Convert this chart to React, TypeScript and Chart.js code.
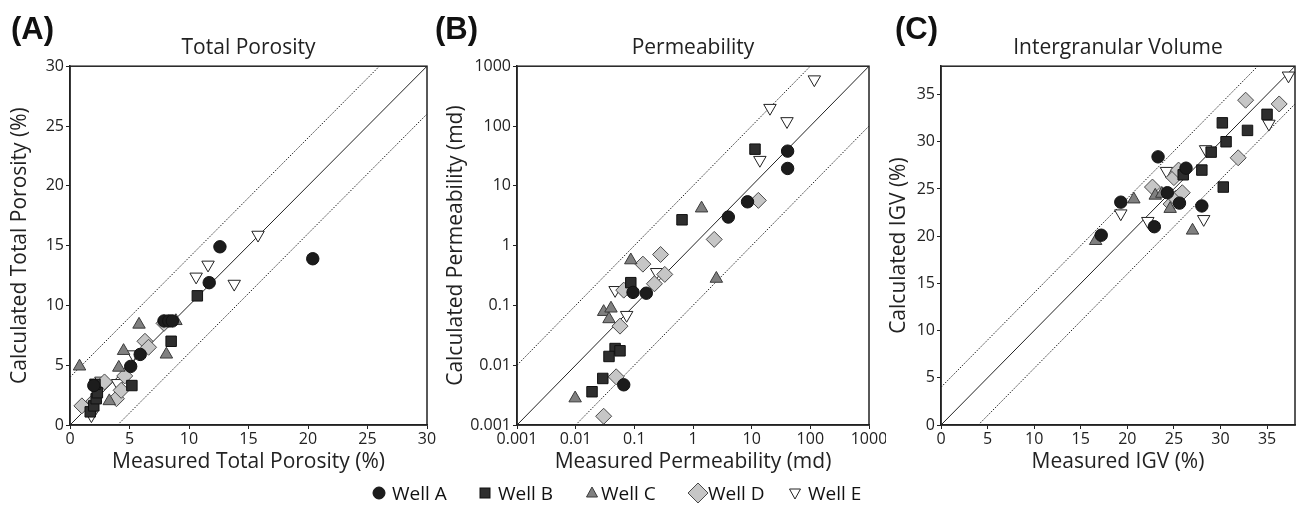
import React, { useEffect, useRef } from 'react';
import { Chart, registerables } from 'chart.js';
Chart.register(...registerables);

// ---------- Panel A: Total Porosity (%) ----------
const porAMeas = [12.6, 20.4, 11.7, 7.9, 8.3, 8.6, 5.9, 5.1, 2.0];
const porACalc = [14.9, 13.9, 11.9, 8.7, 8.7, 8.7, 5.9, 4.9, 3.3];
const porBMeas = [1.7, 2.0, 2.2, 2.3, 2.1, 5.2, 8.5, 10.7];
const porBCalc = [1.1, 1.6, 2.2, 2.7, 3.4, 3.3, 7.0, 10.8];
const porCMeas = [0.8, 3.3, 4.1, 4.5, 5.8, 8.1, 8.9];
const porCCalc = [4.9, 2.0, 4.8, 6.2, 8.4, 5.9, 8.7];
const porDMeas = [1.0, 2.0, 2.9, 3.9, 4.3, 4.6, 6.3, 6.6, 7.9];
const porDCalc = [1.6, 2.0, 3.6, 2.2, 2.9, 4.1, 7.0, 6.5, 8.5];
const porEMeas = [1.8, 2.6, 4.0, 5.3, 10.6, 11.6, 13.8, 15.8];
const porECalc = [0.8, 3.7, 3.5, 5.9, 12.4, 13.4, 11.8, 15.9];
const porTicks = [0, 5, 10, 15, 20, 25, 30];
const porOneToOne = [[0, 0], [30, 30]];
const porUpper = [[0, 4], [26, 30]];
const porLower = [[4, 0], [30, 26]];

// ---------- Panel B: Permeability (md) ----------
const permAMeas = [41, 41, 8.5, 4.0, 0.095, 0.16, 0.066];
const permACalc = [38, 19.5, 5.4, 3.0, 0.165, 0.16, 0.0047];
const permBMeas = [11.4, 0.65, 0.087, 0.047, 0.057, 0.037, 0.029, 0.019];
const permBCalc = [41, 2.7, 0.24, 0.019, 0.0174, 0.014, 0.006, 0.0036];
const permCMeas = [1.4, 0.087, 0.03, 0.04, 0.037, 0.0098, 2.5];
const permCCalc = [4.2, 0.57, 0.078, 0.089, 0.059, 0.0028, 0.28];
const permDMeas = [13, 2.3, 0.28, 0.14, 0.33, 0.22, 0.066, 0.057, 0.049, 0.03];
const permDCalc = [5.7, 1.27, 0.71, 0.49, 0.33, 0.23, 0.18, 0.045, 0.0064, 0.0014];
const permEMeas = [117, 20.5, 40, 13.8, 0.047, 0.074, 0.24];
const permECalc = [600, 200, 120, 27, 0.18, 0.069, 0.36];
const permTickValues = [0.001, 0.01, 0.1, 1, 10, 100, 1000];
const permTickLabels = ['0.001', '0.01', '0.1', '1', '10', '100', '1000'];
const permOneToOne = [[0.001, 0.001], [1000, 1000]];
const permUpper = [[0.001, 0.01], [100, 1000]];
const permLower = [[0.01, 0.001], [1000, 100]];

// ---------- Panel C: Intergranular Volume (%) ----------
const igvAMeas = [23.3, 26.3, 24.3, 25.6, 28.0, 19.3, 22.9, 17.2];
const igvACalc = [28.4, 27.2, 24.6, 23.5, 23.2, 23.6, 21.0, 20.1];
const igvBMeas = [30.2, 32.9, 35.0, 30.6, 29.0, 28.0, 30.3, 26.0];
const igvBCalc = [32.0, 31.2, 32.9, 30.0, 28.9, 27.0, 25.2, 26.5];
const igvCMeas = [20.7, 23.0, 23.7, 24.6, 27.0, 16.6];
const igvCCalc = [23.9, 24.3, 24.5, 22.9, 20.6, 19.5];
const igvDMeas = [22.7, 24.7, 25.2, 25.9, 25.0, 25.5, 31.9, 32.7, 36.3];
const igvDCalc = [25.2, 23.4, 24.0, 24.6, 26.2, 27.0, 28.3, 34.4, 34.0];
const igvEMeas = [37.3, 35.2, 28.4, 24.2, 28.2, 19.3, 22.2];
const igvECalc = [37.0, 31.9, 29.2, 26.9, 21.8, 22.4, 21.6];
const igvTicks = [0, 5, 10, 15, 20, 25, 30, 35];
const igvOneToOne = [[0, 0], [38, 38]];
const igvUpper = [[0, 4], [34, 38]];
const igvLower = [[4, 0], [38, 34]];

const wellNames = ['Well A', 'Well B', 'Well C', 'Well D', 'Well E'];

const FONT = '"Open Sans", "DejaVu Sans", sans-serif';
const INK = '#222';

const wellStyles = [
  { pointStyle: 'circle', radius: 6.2, rotation: 0, bg: '#1c1c1c', border: '#111' },
  { pointStyle: 'rect', radius: 7.4, rotation: 0, bg: '#2e2e2e', border: '#111' },
  { pointStyle: 'triangle', radius: 7.2, rotation: 0, bg: '#808080', border: '#3a3a3a' },
  { pointStyle: 'rectRot', radius: 8, rotation: 0, bg: '#c6c6c6', border: '#4a4a4a' },
  { pointStyle: 'triangle', radius: 7.2, rotation: 180, bg: '#ffffff', border: '#222' },
];

const pts = (xs: number[], ys: number[]) => xs.map((x, i) => ({ x, y: ys[i] }));
const seg = (p: number[][]) => p.map(([x, y]) => ({ x, y }));

const framePlugin = {
  id: 'frame',
  afterDatasetsDraw(chart: any) {
    const { ctx, chartArea: a } = chart;
    ctx.save();
    ctx.strokeStyle = INK;
    ctx.lineWidth = 1.5;
    ctx.strokeRect(a.left, a.top, a.right - a.left, a.bottom - a.top);
    ctx.restore();
  },
};

type PanelDef = {
  left: number;
  width: number;
  yWidth: number;
  padRight: number;
  title: string;
  xTitle: string;
  yTitle: string;
  type: 'linear' | 'logarithmic';
  min: number;
  max: number;
  tickValues: number[];
  tickLabels: string[];
  wells: [number[], number[]][];
  oneToOne: number[][];
  upper: number[][];
  lower: number[][];
};

const panels: PanelDef[] = [
  {
    left: 0, width: 436, yWidth: 70, padRight: 8,
    title: 'Total Porosity', xTitle: 'Measured Total Porosity (%)', yTitle: 'Calculated Total Porosity (%)',
    type: 'linear', min: 0, max: 30, tickValues: porTicks, tickLabels: porTicks.map(String),
    wells: [[porAMeas, porACalc], [porBMeas, porBCalc], [porCMeas, porCCalc], [porDMeas, porDCalc], [porEMeas, porECalc]],
    oneToOne: porOneToOne, upper: porUpper, lower: porLower,
  },
  {
    left: 436, width: 450, yWidth: 81, padRight: 17,
    title: 'Permeability', xTitle: 'Measured Permeability (md)', yTitle: 'Calculated Permeability (md)',
    type: 'logarithmic', min: 0.001, max: 1000, tickValues: permTickValues, tickLabels: permTickLabels,
    wells: [[permAMeas, permACalc], [permBMeas, permBCalc], [permCMeas, permCCalc], [permDMeas, permDCalc], [permEMeas, permECalc]],
    oneToOne: permOneToOne, upper: permUpper, lower: permLower,
  },
  {
    left: 879, width: 425, yWidth: 62, padRight: 4,
    title: 'Intergranular Volume', xTitle: 'Measured IGV (%)', yTitle: 'Calculated IGV (%)',
    type: 'linear', min: 0, max: 38, tickValues: igvTicks, tickLabels: igvTicks.map(String),
    wells: [[igvAMeas, igvACalc], [igvBMeas, igvBCalc], [igvCMeas, igvCCalc], [igvDMeas, igvDCalc], [igvEMeas, igvECalc]],
    oneToOne: igvOneToOne, upper: igvUpper, lower: igvLower,
  },
];

function Panel({ def }: { def: PanelDef }) {
  const ref = useRef<HTMLCanvasElement | null>(null);
  useEffect(() => {
    if (!ref.current) return;
    const wellSets = def.wells.map(([xs, ys], i) => {
      const s = wellStyles[i];
      return {
        label: wellNames[i],
        data: pts(xs, ys),
        pointStyle: s.pointStyle,
        pointRadius: s.radius,
        pointRotation: s.rotation,
        pointBackgroundColor: s.bg,
        pointBorderColor: s.border,
        pointBorderWidth: 1,
        showLine: false,
      };
    });
    const lineSet = (p: number[][], dash: number[]) => ({
      label: '',
      data: seg(p),
      showLine: true,
      pointRadius: 0,
      borderColor: INK,
      borderWidth: 1,
      borderDash: dash,
      fill: false,
    });
    const tickFont = { family: FONT, size: 16 };
    const titleFont = { family: FONT, size: 21 };
    const scaleBase = (isX: boolean) => ({
      type: def.type,
      min: def.min,
      max: def.max,
      afterBuildTicks: (s: any) => {
        s.ticks = def.tickValues.map((v) => ({ value: v }));
      },
      afterFit: (s: any) => {
        if (isX) s.height = 50;
        else s.width = def.yWidth;
        s.paddingLeft = 0;
        s.paddingRight = 0;
        s.paddingTop = 0;
        s.paddingBottom = 0;
      },
      ticks: {
        autoSkip: false,
        maxRotation: 0,
        font: tickFont,
        color: INK,
        padding: isX ? 1 : 2,
        callback: (_v: any, i: number) => def.tickLabels[i],
      },
      grid: { drawOnChartArea: false, drawTicks: true, tickLength: 4, color: INK, lineWidth: 1 },
      border: { display: true, color: INK, width: 1.5 },
      title: {
        display: true,
        text: isX ? def.xTitle : def.yTitle,
        font: titleFont,
        color: INK,
        padding: isX ? { top: 0, bottom: 0 } : { top: 7, bottom: 0 },
      },
    });
    const chart = new Chart(ref.current, {
      type: 'scatter',
      data: {
        datasets: [
          ...wellSets,
          lineSet(def.oneToOne, []),
          lineSet(def.upper, [1.5, 1.5]),
          lineSet(def.lower, [1.5, 1.5]),
        ] as any,
      },
      options: {
        responsive: false,
        animation: false,
        layout: { padding: { left: 0, right: def.padRight, top: 0, bottom: 31 } },
        plugins: {
          legend: { display: false },
          tooltip: { enabled: false },
          title: {
            display: true,
            text: def.title,
            fullSize: false,
            font: { family: FONT, size: 21, weight: 'normal' },
            color: INK,
            padding: { top: 35, bottom: 6 },
          },
        },
        scales: { x: scaleBase(true), y: scaleBase(false) } as any,
      },
      plugins: [framePlugin],
    });
    return () => chart.destroy();
  }, [def]);
  return (
    <div style={{ position: 'absolute', left: def.left, top: 0, width: def.width, height: 506 }}>
      <canvas ref={ref} width={def.width} height={506} style={{ display: 'block' }} />
    </div>
  );
}

const panelLabels = [
  { text: '(A)', left: 11 },
  { text: '(B)', left: 435 },
  { text: '(C)', left: 895 },
];

const legendItems = [
  { name: wellNames[0], cx: 379, tx: 392 },
  { name: wellNames[1], cx: 485, tx: 498 },
  { name: wellNames[2], cx: 592, tx: 601 },
  { name: wellNames[3], cx: 698, tx: 708 },
  { name: wellNames[4], cx: 795, tx: 808 },
];

function Marker({ i }: { i: number }) {
  const s = wellStyles[i];
  const sz = 22;
  const c = sz / 2;
  let shape: any = null;
  if (i === 0) shape = <circle cx={c} cy={c} r={6} fill={s.bg} stroke={s.border} />;
  if (i === 1) shape = <rect x={c - 5} y={c - 5} width={10} height={10} fill={s.bg} stroke={s.border} />;
  if (i === 2) shape = <polygon points={`${c},${c - 6} ${c + 5.5},${c + 4} ${c - 5.5},${c + 4}`} fill={s.bg} stroke={s.border} />;
  if (i === 3) shape = <polygon points={`${c},${c - 10} ${c + 10},${c} ${c},${c + 10} ${c - 10},${c}`} fill={s.bg} stroke={s.border} />;
  if (i === 4) shape = <polygon points={`${c - 5.5},${c - 4} ${c + 5.5},${c - 4} ${c},${c + 6}`} fill={s.bg} stroke={s.border} />;
  return (
    <svg width={sz} height={sz} style={{ position: 'absolute', left: -c, top: -c }}>
      {shape}
    </svg>
  );
}

export default function App() {
  return (
    <div style={{ position: 'fixed', left: 0, top: 0, width: 1304, height: 506, background: '#fff', overflow: 'hidden' }}>
      {panels.map((p, i) => (
        <Panel key={i} def={p} />
      ))}
      {panelLabels.map((l, i) => (
        <div
          key={i}
          style={{
            position: 'absolute', left: l.left, top: 11, fontFamily: '"Liberation Sans", Arial, sans-serif',
            fontWeight: 'bold', fontSize: 31, lineHeight: '36px', color: '#111',
          }}
        >
          {l.text}
        </div>
      ))}
      {legendItems.map((it, i) => (
        <React.Fragment key={i}>
          <div style={{ position: 'absolute', left: it.cx, top: 493 }}>
            <Marker i={i} />
          </div>
          <div
            style={{
              position: 'absolute', left: it.tx, top: 480, fontFamily: FONT, fontSize: 19,
              lineHeight: '26px', color: '#111', whiteSpace: 'nowrap',
            }}
          >
            {it.name}
          </div>
        </React.Fragment>
      ))}
    </div>
  );
}
